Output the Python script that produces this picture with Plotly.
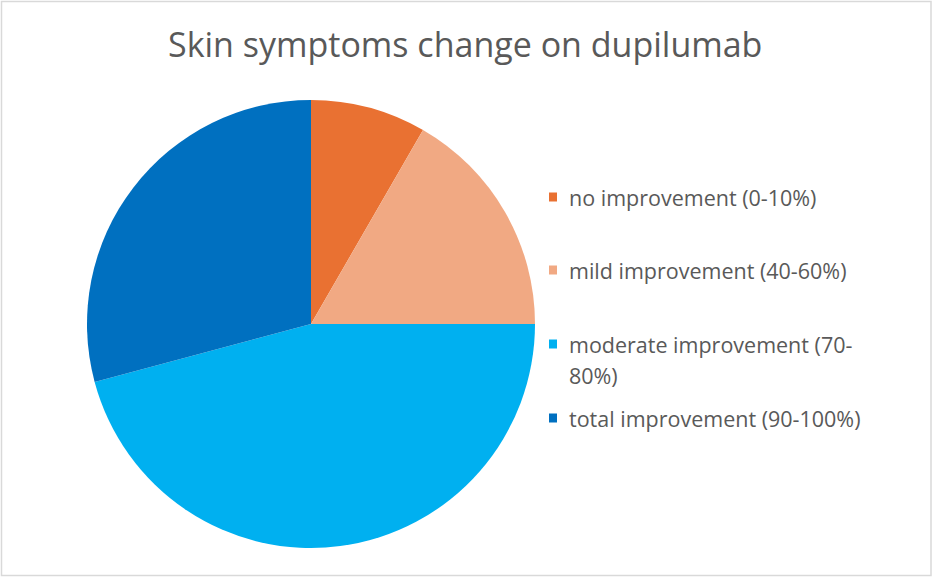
import plotly.graph_objects as go

labels = ["no improvement (0-10%)", "mild improvement (40-60%)",
          "moderate improvement (70-80%)", "total improvement (90-100%)"]
counts = [2, 4, 11, 7]
colors = ["#E97132", "#F1A983", "#00B0F0", "#0070C0"]
title = "Skin symptoms change on dupilumab"

W, H = 933, 578
cx, cy, r = 311, 324, 224

fig = go.Figure()
fig.add_trace(go.Pie(
    labels=labels, values=counts, sort=False, direction="clockwise", rotation=0,
    marker=dict(colors=colors, line=dict(width=0)),
    textinfo="none", hoverinfo="label+value+percent", showlegend=False,
    domain=dict(x=[(cx - r) / W, (cx + r) / W], y=[(H - cy - r) / H, (H - cy + r) / H]),
))

font_fam = "'Open Sans', sans-serif"
txt_col = "#595959"
shapes = [dict(type="rect", xref="paper", yref="paper", x0=1.5 / W, x1=(W - 2) / W,
               y0=2.5 / H, y1=(H - 1.5) / H, line=dict(color="#D9D9D9", width=1.5),
               fillcolor="rgba(0,0,0,0)", layer="below")]
annotations = [dict(text=title, x=465 / W, y=(H - 44) / H, xref="paper", yref="paper",
                    xanchor="center", yanchor="middle", showarrow=False,
                    font=dict(family=font_fam, size=34, color=txt_col))]

legend_y = [197, 270, 344, 418]
for lab, col, ly in zip(labels, colors, legend_y):
    shapes.append(dict(type="rect", xref="paper", yref="paper",
                       x0=549 / W, x1=557 / W, y0=(H - ly - 4.5) / H, y1=(H - ly + 4.5) / H,
                       fillcolor=col, line=dict(width=0)))
    if lab.startswith("moderate"):
        parts = [lab[:lab.index("70-") + 3], lab[lab.index("70-") + 3:]]
    else:
        parts = [lab]
    for i, p in enumerate(parts):
        annotations.append(dict(text=p, x=567 / W, y=(H - ly - 31 * i) / H, xref="paper", yref="paper",
                                xanchor="left", yanchor="middle", showarrow=False,
                                font=dict(family=font_fam, size=21.5, color=txt_col)))

fig.update_layout(width=W, height=H, margin=dict(l=0, r=0, t=0, b=0),
                  paper_bgcolor="white", plot_bgcolor="white",
                  shapes=shapes, annotations=annotations)
fig.write_html("out.html", config={"displayModeBar": False},
               post_script="document.body.style.margin='0';")
